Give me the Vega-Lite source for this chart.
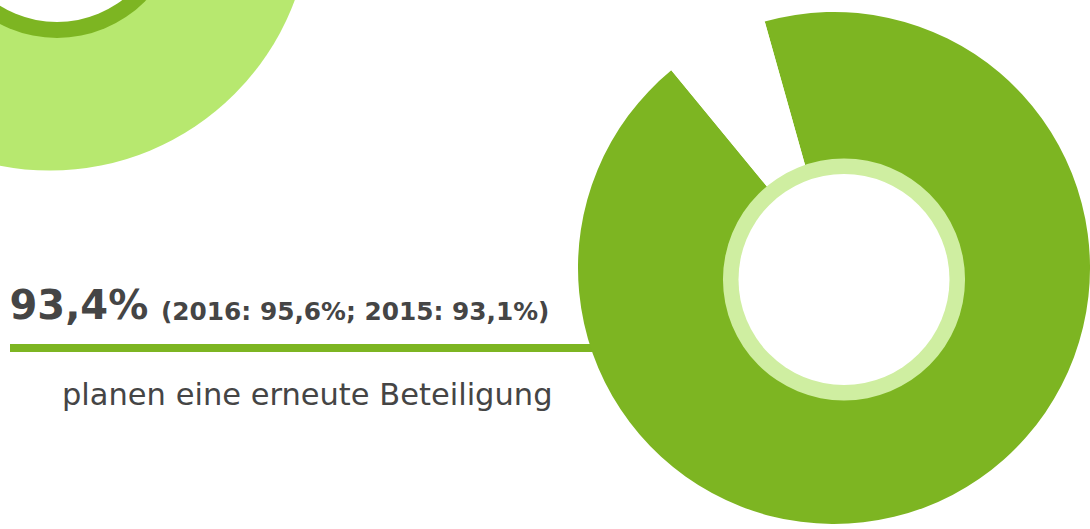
{
  "$schema": "https://vega.github.io/schema/vega-lite/v6.json",
  "width": 1090,
  "height": 529,
  "autosize": "none",
  "padding": 0,
  "background": "#ffffff",
  "config": {"view": {"stroke": null}},
  "datasets": {
    "beteiligung": [
      {"antwort": "planen eine erneute Beteiligung", "anteil": 93.4},
      {"antwort": "keine erneute Beteiligung", "anteil": 6.6}
    ],
    "form": [{"form": "Kreis"}]
  },
  "layer": [
    {
      "data": {"name": "form"},
      "mark": {"type": "arc", "radius": 261, "radius2": 0, "theta": 0, "theta2": 6.2832, "color": "#b7e86f"},
      "encoding": {
        "x": {"datum": 50, "type": "quantitative", "scale": {"domain": [0, 1090], "range": [0, 1090], "nice": false, "zero": false}, "axis": null},
        "y": {"datum": -90.5, "type": "quantitative", "scale": {"domain": [0, 529], "range": [0, 529], "nice": false, "zero": false}, "axis": null}
      }
    },
    {
      "data": {"name": "form"},
      "mark": {"type": "arc", "radius": 124, "radius2": 0, "theta": 0, "theta2": 6.2832, "color": "#7db522"},
      "encoding": {
        "x": {"datum": 57, "type": "quantitative", "scale": {"domain": [0, 1090], "range": [0, 1090], "nice": false, "zero": false}, "axis": null},
        "y": {"datum": -86, "type": "quantitative", "scale": {"domain": [0, 529], "range": [0, 529], "nice": false, "zero": false}, "axis": null}
      }
    },
    {
      "data": {"name": "form"},
      "mark": {"type": "arc", "radius": 108, "radius2": 0, "theta": 0, "theta2": 6.2832, "color": "#ffffff"},
      "encoding": {
        "x": {"datum": 57, "type": "quantitative", "scale": {"domain": [0, 1090], "range": [0, 1090], "nice": false, "zero": false}, "axis": null},
        "y": {"datum": -86, "type": "quantitative", "scale": {"domain": [0, 529], "range": [0, 529], "nice": false, "zero": false}, "axis": null}
      }
    },
    {
      "data": {"name": "form"},
      "mark": {"type": "rule", "color": "#7db522", "strokeWidth": 8, "strokeCap": "butt"},
      "encoding": {
        "x": {"datum": 10, "type": "quantitative", "scale": {"domain": [0, 1090], "range": [0, 1090], "nice": false, "zero": false}, "axis": null},
        "x2": {"datum": 594},
        "y": {"datum": 348, "type": "quantitative", "scale": {"domain": [0, 529], "range": [0, 529], "nice": false, "zero": false}, "axis": null}
      }
    },
    {
      "data": {"name": "beteiligung"},
      "mark": {"type": "arc", "radius": 256, "radius2": 0},
      "encoding": {
        "x": {"datum": 834, "type": "quantitative", "scale": {"domain": [0, 1090], "range": [0, 1090], "nice": false, "zero": false}, "axis": null},
        "y": {"datum": 268, "type": "quantitative", "scale": {"domain": [0, 529], "range": [0, 529], "nice": false, "zero": false}, "axis": null},
        "theta": {"field": "anteil", "type": "quantitative", "stack": true, "scale": {"domain": [0, 100], "range": [-0.274, 6.0092]}},
        "order": {"field": "anteil", "sort": "descending"},
        "color": {"field": "antwort", "type": "nominal", "scale": {"domain": ["planen eine erneute Beteiligung", "keine erneute Beteiligung"], "range": ["#7db522", "#ffffff"]}, "legend": null}
      }
    },
    {
      "data": {"name": "form"},
      "mark": {"type": "arc", "radius": 121, "radius2": 0, "theta": 0, "theta2": 6.2832, "color": "#cfeea1"},
      "encoding": {
        "x": {"datum": 844, "type": "quantitative", "scale": {"domain": [0, 1090], "range": [0, 1090], "nice": false, "zero": false}, "axis": null},
        "y": {"datum": 279.5, "type": "quantitative", "scale": {"domain": [0, 529], "range": [0, 529], "nice": false, "zero": false}, "axis": null}
      }
    },
    {
      "data": {"name": "form"},
      "mark": {"type": "arc", "radius": 105.5, "radius2": 0, "theta": 0, "theta2": 6.2832, "color": "#ffffff"},
      "encoding": {
        "x": {"datum": 844, "type": "quantitative", "scale": {"domain": [0, 1090], "range": [0, 1090], "nice": false, "zero": false}, "axis": null},
        "y": {"datum": 279.5, "type": "quantitative", "scale": {"domain": [0, 529], "range": [0, 529], "nice": false, "zero": false}, "axis": null}
      }
    },
    {
      "data": {"values": [{"text": "93,4%"}]},
      "mark": {"type": "text", "align": "left", "baseline": "alphabetic", "font": "DejaVu Sans", "fontWeight": "bold", "fontSize": 40, "color": "#454545"},
      "encoding": {
        "x": {"datum": 9.5, "type": "quantitative", "scale": {"domain": [0, 1090], "range": [0, 1090], "nice": false, "zero": false}, "axis": null},
        "y": {"datum": 319, "type": "quantitative", "scale": {"domain": [0, 529], "range": [0, 529], "nice": false, "zero": false}, "axis": null},
        "text": {"field": "text", "type": "nominal"}
      }
    },
    {
      "data": {"values": [{"text": "(2016: 95,6%; 2015: 93,1%)"}]},
      "mark": {"type": "text", "align": "left", "baseline": "alphabetic", "font": "DejaVu Sans", "fontWeight": "bold", "fontSize": 24.8, "color": "#454545"},
      "encoding": {
        "x": {"datum": 161, "type": "quantitative", "scale": {"domain": [0, 1090], "range": [0, 1090], "nice": false, "zero": false}, "axis": null},
        "y": {"datum": 319.5, "type": "quantitative", "scale": {"domain": [0, 529], "range": [0, 529], "nice": false, "zero": false}, "axis": null},
        "text": {"field": "text", "type": "nominal"}
      }
    },
    {
      "data": {"values": [{"text": "planen eine erneute Beteiligung"}]},
      "mark": {"type": "text", "align": "left", "baseline": "alphabetic", "font": "DejaVu Sans", "fontSize": 30.5, "color": "#454545"},
      "encoding": {
        "x": {"datum": 62, "type": "quantitative", "scale": {"domain": [0, 1090], "range": [0, 1090], "nice": false, "zero": false}, "axis": null},
        "y": {"datum": 404.5, "type": "quantitative", "scale": {"domain": [0, 529], "range": [0, 529], "nice": false, "zero": false}, "axis": null},
        "text": {"field": "text", "type": "nominal"}
      }
    }
  ]
}
